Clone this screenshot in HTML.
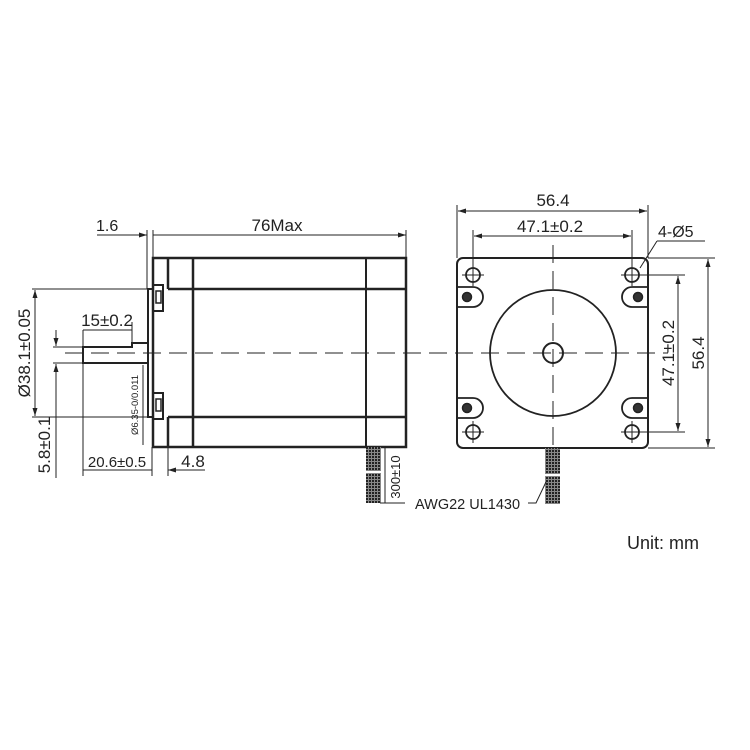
<!DOCTYPE html>
<html><head><meta charset="utf-8"><style>
html,body{margin:0;padding:0;background:#fff;}
svg{display:block;}
text{font-family:"Liberation Sans",sans-serif;fill:#222;}
</style></head><body>
<svg width="750" height="750" viewBox="0 0 750 750" xmlns="http://www.w3.org/2000/svg">
<defs>
<pattern id="hatch" width="3" height="3" patternUnits="userSpaceOnUse">
<rect width="3" height="3" fill="#888"/><rect width="2" height="2" fill="#222"/>
</pattern>
<marker id="ar" markerWidth="8" markerHeight="6" refX="8" refY="3" orient="auto" markerUnits="userSpaceOnUse">
<path d="M0,0.5 L8,3 L0,5.5 z" fill="#222"/></marker>
</defs>
<g stroke="#222" fill="none">
<line x1="65" y1="353" x2="668" y2="353" stroke-width="1" stroke-dasharray="18,8"/>
<rect x="153" y="258" width="253" height="189" stroke-width="2.5"/>
<line x1="168" y1="258" x2="168" y2="289" stroke-width="2.5"/>
<line x1="168" y1="417" x2="168" y2="447" stroke-width="2.5"/>
<line x1="168" y1="289" x2="406" y2="289" stroke-width="2.5"/>
<line x1="168" y1="417" x2="406" y2="417" stroke-width="2.5"/>
<line x1="193" y1="258" x2="193" y2="447" stroke-width="2.5"/>
<line x1="366" y1="258" x2="366" y2="447" stroke-width="2"/>
<rect x="148" y="289" width="5" height="128" stroke-width="2"/>
<rect x="153" y="285" width="10" height="26" stroke-width="2"/>
<rect x="156" y="291" width="5" height="12" stroke-width="1.5"/>
<rect x="153" y="393" width="10" height="26" stroke-width="2"/>
<rect x="156" y="399" width="5" height="12" stroke-width="1.5"/>
<path d="M148,343 H132 V347 H83 V363 H148" stroke-width="2"/>
<rect x="366" y="447" width="15" height="56" fill="url(#hatch)" stroke="none"/>
<line x1="364" y1="472" x2="383" y2="472" stroke="#fff" stroke-width="2"/>
<g stroke-width="1">
<line x1="147" y1="230" x2="147" y2="289"/>
<line x1="153" y1="230" x2="153" y2="258"/>
<line x1="406" y1="230" x2="406" y2="258"/>
<line x1="97" y1="235" x2="147" y2="235" marker-end="url(#ar)"/>
<line x1="153" y1="235" x2="406" y2="235" marker-end="url(#ar)"/>
<line x1="32" y1="289" x2="148" y2="289"/>
<line x1="32" y1="417" x2="148" y2="417"/>
<line x1="35" y1="353" x2="35" y2="290" marker-end="url(#ar)"/>
<line x1="35" y1="353" x2="35" y2="416" marker-end="url(#ar)"/>
<line x1="83" y1="330" x2="83" y2="476"/>
<line x1="132" y1="322" x2="132" y2="343"/>
<line x1="83" y1="330" x2="132" y2="330"/>
<line x1="53" y1="347" x2="83" y2="347"/>
<line x1="53" y1="363" x2="83" y2="363"/>
<line x1="56" y1="330" x2="56" y2="346" marker-end="url(#ar)"/>
<line x1="56" y1="380" x2="56" y2="364" marker-end="url(#ar)"/>
<line x1="56" y1="380" x2="56" y2="478"/>
<line x1="152" y1="447" x2="152" y2="476"/>
<line x1="168" y1="447" x2="168" y2="476"/>
<line x1="83" y1="470" x2="152" y2="470"/>
<line x1="205" y1="470" x2="168" y2="470" marker-end="url(#ar)"/>
<line x1="385" y1="447" x2="385" y2="503"/>
<line x1="380" y1="503" x2="405" y2="503"/>
<line x1="143" y1="365" x2="143" y2="445"/>
</g>
<rect x="457" y="258" width="191" height="190" rx="6" stroke-width="2"/>
<circle cx="553" cy="353" r="63" stroke-width="1.8"/>
<circle cx="553" cy="353" r="10" stroke-width="2"/>
<line x1="553" y1="245" x2="553" y2="462" stroke-width="1" stroke-dasharray="18,8"/>
<g stroke-width="1.8">
<circle cx="473" cy="275" r="7"/><circle cx="632" cy="275" r="7"/>
<circle cx="473" cy="432" r="7"/><circle cx="632" cy="432" r="7"/>
</g>
<g stroke-width="1">
<line x1="462" y1="275" x2="484" y2="275"/><line x1="473" y1="264" x2="473" y2="286"/>
<line x1="621" y1="275" x2="643" y2="275"/><line x1="632" y1="264" x2="632" y2="286"/>
<line x1="462" y1="432" x2="484" y2="432"/><line x1="473" y1="421" x2="473" y2="443"/>
<line x1="621" y1="432" x2="643" y2="432"/><line x1="632" y1="421" x2="632" y2="443"/>
</g>
<g stroke-width="1.8">
<path d="M457,287 H473 A10,10 0 0 1 473,307 H457"/>
<path d="M648,287 H632 A10,10 0 0 0 632,307 H648"/>
<path d="M457,398 H473 A10,10 0 0 1 473,418 H457"/>
<path d="M648,398 H632 A10,10 0 0 0 632,418 H648"/>
</g>
<g fill="#333" stroke-width="1.5">
<circle cx="467" cy="297" r="4.5"/><circle cx="638" cy="297" r="4.5"/>
<circle cx="467" cy="408" r="4.5"/><circle cx="638" cy="408" r="4.5"/>
</g>
<rect x="545" y="448" width="15" height="56" fill="url(#hatch)" stroke="none"/>
<line x1="543" y1="475" x2="562" y2="475" stroke="#fff" stroke-width="2"/>
<g stroke-width="1">
<line x1="457" y1="205" x2="457" y2="258"/>
<line x1="648" y1="205" x2="648" y2="258"/>
<line x1="553" y1="211" x2="458" y2="211" marker-end="url(#ar)"/>
<line x1="553" y1="211" x2="647" y2="211" marker-end="url(#ar)"/>
<line x1="473" y1="230" x2="473" y2="268"/>
<line x1="632" y1="230" x2="632" y2="268"/>
<line x1="553" y1="236" x2="474" y2="236" marker-end="url(#ar)"/>
<line x1="553" y1="236" x2="631" y2="236" marker-end="url(#ar)"/>
<line x1="640" y1="268" x2="657" y2="241"/>
<line x1="657" y1="241" x2="705" y2="241"/>
<line x1="648" y1="258" x2="715" y2="258"/>
<line x1="648" y1="448" x2="715" y2="448"/>
<line x1="640" y1="275" x2="685" y2="275"/>
<line x1="640" y1="432" x2="685" y2="432"/>
<line x1="678" y1="353" x2="678" y2="276" marker-end="url(#ar)"/>
<line x1="678" y1="353" x2="678" y2="431" marker-end="url(#ar)"/>
<line x1="708" y1="353" x2="708" y2="259" marker-end="url(#ar)"/>
<line x1="708" y1="353" x2="708" y2="447" marker-end="url(#ar)"/>
<path d="M528,503 H536 L546,482"/>
</g>
</g>
<g font-size="16">
<text x="96" y="231">1.6</text>
<text x="277" y="231" text-anchor="middle" font-size="17">76Max</text>
<text x="107" y="326" text-anchor="middle" font-size="17">15±0.2</text>
<text x="117" y="467" text-anchor="middle" font-size="15">20.6±0.5</text>
<text x="193" y="467" text-anchor="middle" font-size="17">4.8</text>
<text transform="translate(35,353) rotate(-90)" text-anchor="middle" dy="-5" font-size="17">Ø38.1±0.05</text>
<text transform="translate(53,445) rotate(-90)" text-anchor="middle" dy="-3" font-size="17">5.8±0.1</text>
<text transform="translate(138,405) rotate(-90)" text-anchor="middle" font-size="9.5">Ø6.35-0/0.011</text>
<text transform="translate(400,477) rotate(-90)" text-anchor="middle" font-size="13">300±10</text>
<text x="553" y="206" text-anchor="middle" font-size="17">56.4</text>
<text x="550" y="232" text-anchor="middle" font-size="17">47.1±0.2</text>
<text x="658" y="237" font-size="16">4-Ø5</text>
<text transform="translate(674,353) rotate(-90)" text-anchor="middle" font-size="17">47.1±0.2</text>
<text transform="translate(704,353) rotate(-90)" text-anchor="middle" font-size="17">56.4</text>
<text x="415" y="509" font-size="14.5">AWG22  UL1430</text>
<text x="627" y="549" font-size="18">Unit: mm</text>
</g>
</svg>
</body></html>
